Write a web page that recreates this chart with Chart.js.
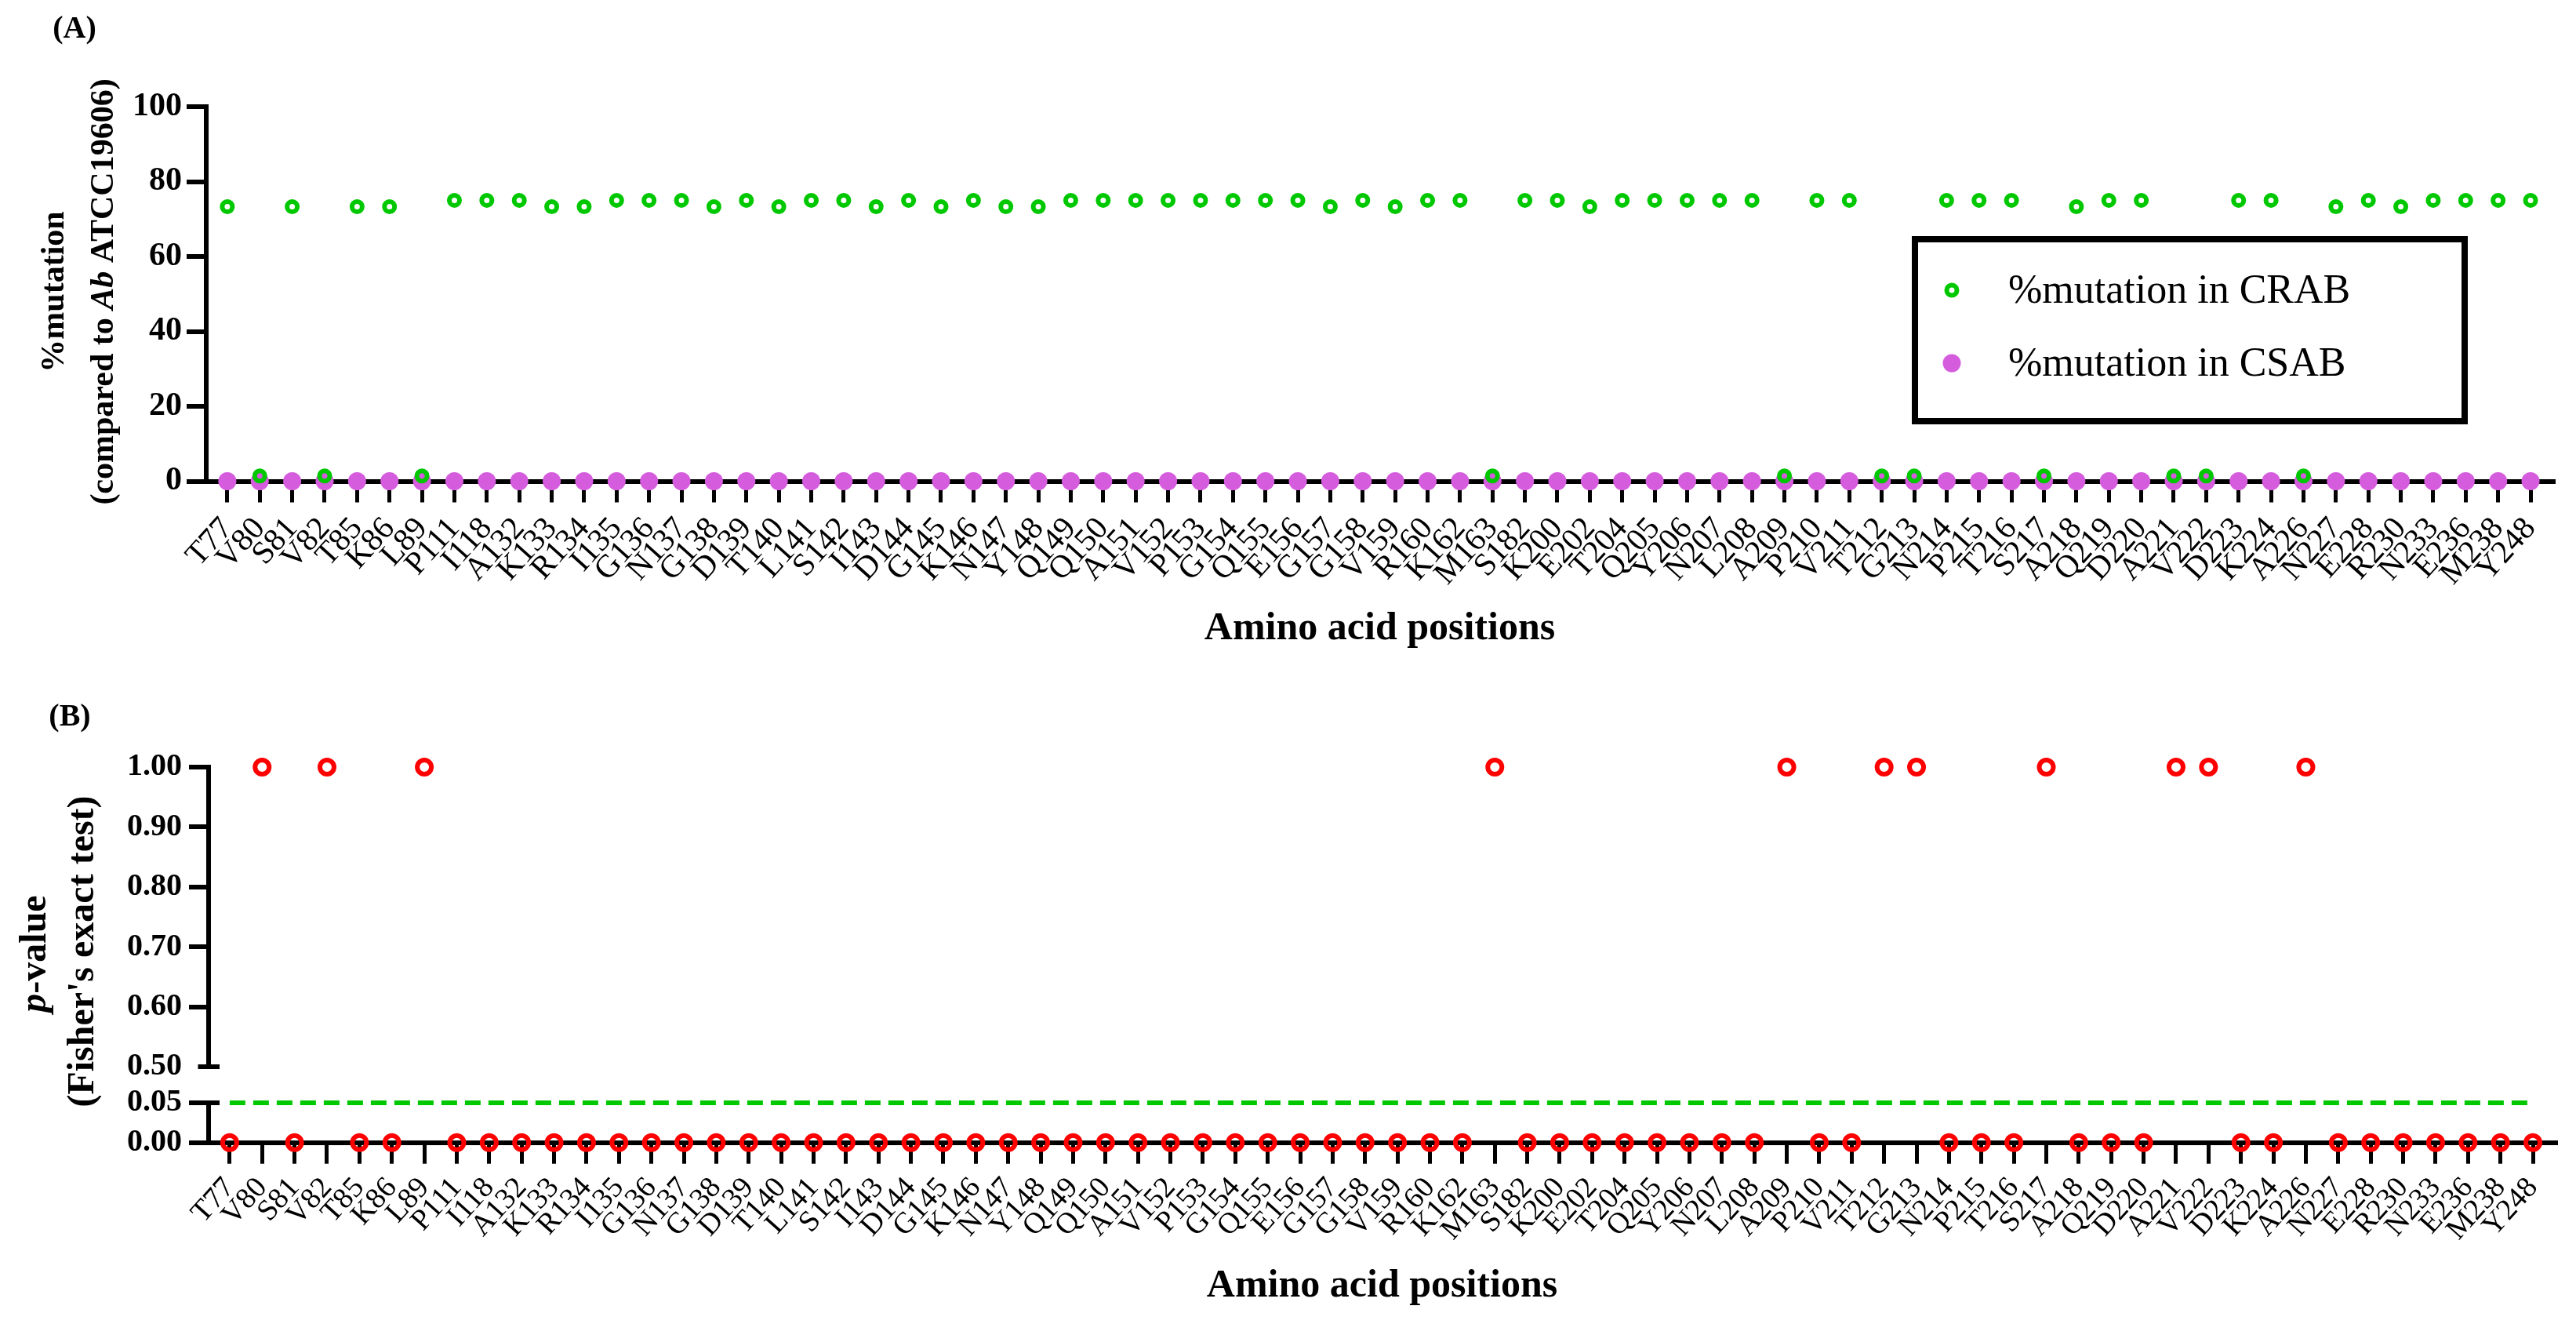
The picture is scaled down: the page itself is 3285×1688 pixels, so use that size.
<!DOCTYPE html>
<html><head><meta charset="utf-8">
<script src="https://cdn.jsdelivr.net/npm/chart.js@4.4.0/dist/chart.umd.min.js"></script>
<style>
html,body{margin:0;padding:0;background:#fff;}
#wrap{position:relative;width:3285px;height:1688px;overflow:hidden;background:#fff;}
canvas{position:absolute;left:0;top:0;width:3285px;height:1688px;}
</style></head><body>
<div id="wrap">
<canvas id="cA" width="3285" height="1688"></canvas>
<canvas id="cBU" width="3285" height="1688"></canvas>
<canvas id="cBL" width="3285" height="1688"></canvas>
</div>
<script>
// ---------- DATA ----------
const positions = ['T77','V80','S81','V82','T85','K86','L89','P111','I118','A132','K133','R134','I135','G136','N137','G138','D139','T140','L141','S142','I143','D144','G145','K146','N147','Y148','Q149','Q150','A151','V152','P153','G154','Q155','E156','G157','G158','V159','R160','K162','M163','S182','K200','E202','T204','Q205','Y206','N207','L208','A209','P210','V211','T212','G213','N214','P215','T216','S217','A218','Q219','D220','A221','V222','D223','K224','A226','N227','E228','R230','N233','E236','M238','Y248'];
const crabPct = [73.3,1.4,73.3,1.4,73.3,73.3,1.4,75,75,75,73.3,73.3,75,75,75,73.3,75,73.3,75,75,73.3,75,73.3,75,73.3,73.3,75,75,75,75,75,75,75,75,73.3,75,73.3,75,75,1.4,75,75,73.3,75,75,75,75,75,1.4,75,75,1.4,1.4,75,75,75,1.4,73.3,75,75,1.4,1.4,75,75,1.4,73.3,75,73.3,75,75,75,75];
const csabPct = [0,0,0,0,0,0,0,0,0,0,0,0,0,0,0,0,0,0,0,0,0,0,0,0,0,0,0,0,0,0,0,0,0,0,0,0,0,0,0,0,0,0,0,0,0,0,0,0,0,0,0,0,0,0,0,0,0,0,0,0,0,0,0,0,0,0,0,0,0,0,0,0];
const pValues = [0,1,0,1,0,0,1,0,0,0,0,0,0,0,0,0,0,0,0,0,0,0,0,0,0,0,0,0,0,0,0,0,0,0,0,0,0,0,0,1,0,0,0,0,0,0,0,0,1,0,0,1,1,0,0,0,1,0,0,0,1,1,0,0,1,0,0,0,0,0,0,0];
const alphaLevel = [0.05];
const yTicksA = [0,20,40,60,80,100];
const yTicksBUpper = [0.5,0.6,0.7,0.8,0.9,1.0];
const yTicksBLower = [0,0.05];
const legendLabels = ['%mutation in CRAB','%mutation in CSAB'];

// ---------- STYLE ----------
const W = 3285, H = 1688;
const FAM = 'Liberation Serif';
const GREEN = '#00c800', MAGENTA = '#d55ddd', RED = '#ff0000';
const GA = {left:263, right:3256, top:136, bottom:613.5, axisBoxBottom:850};
const GBU = {left:266, right:3259, top:978, bottom:1360};
const GBL = {left:266, right:3259, top:1406, bottom:1456.7};
const XMIN = -0.65, XMAX = 71.7;

function xAxis(show, titlePadBottom, boxHeight, labelSize, labelPad) {
  return {
    type:'linear', min:XMIN, max:XMAX, display:show,
    afterBuildTicks: s => { s.ticks = positions.map((_, i) => ({value:i})); },
    afterFit: s => { if (boxHeight !== undefined) s.height = boxHeight; },
    ticks:{autoSkip:false, minRotation:48, maxRotation:48, padding:labelPad || 8, color:'#000',
      font:{family:FAM, size:labelSize || 40}, callback:(v) => positions[Math.round(v)]},
    grid:{drawOnChartArea:false, drawTicks:true, tickLength:27, lineWidth:5, color:'#000'},
    border:{display:true, width:6, color:'#000'},
    title:{display:show, text:'Amino acid positions', color:'#000',
      font:{family:FAM, size:50, weight:'bold'}, padding:{top:0, bottom:titlePadBottom}}
  };
}
function yAxis(min, max, tickVals, width, fmt, tickPad, fontSize, tickColorFn) {
  return {
    min:min, max:max,
    afterBuildTicks: s => { s.ticks = tickVals.map(v => ({value:v})); },
    afterFit: s => { s.width = width; },
    ticks:{autoSkip:false, color:'#000', padding:tickPad, font:{family:FAM, size:fontSize, weight:'bold'}, callback:fmt},
    grid:{drawOnChartArea:false, drawTicks:true, tickLength:25, lineWidth:6, color:'#000',
      tickColor: tickColorFn || '#000'},
    border:{display:true, width:6, color:'#000'}
  };
}
function richText(ctx, parts, cx, cy, rotate) {
  ctx.save();
  ctx.translate(cx, cy);
  if (rotate) ctx.rotate(-Math.PI/2);
  ctx.textBaseline = 'middle';
  ctx.textAlign = 'left';
  let total = 0;
  parts.forEach(p => { ctx.font = p.font; p.w = ctx.measureText(p.t).width; total += p.w; });
  let x = -total/2;
  ctx.fillStyle = '#000';
  parts.forEach(p => { ctx.font = p.font; ctx.fillText(p.t, x, 0); x += p.w; });
  ctx.restore();
}
const common = {responsive:false, maintainAspectRatio:false, animation:false, devicePixelRatio:1,
  events:[], plugins:{legend:{display:false}, tooltip:{enabled:false}}};

// ---------- PANEL A ----------
const decorA = {id:'decorA', afterDraw(chart){
  const ctx = chart.ctx;
  richText(ctx, [{t:'(A)', font:`bold 40px "${FAM}"`}], 95, 38, false);
  richText(ctx, [{t:'%mutation', font:`bold 42px "${FAM}"`}], 70, 372, true);
  richText(ctx, [{t:'(compared to ', font:`bold 42px "${FAM}"`},
                 {t:'Ab', font:`italic bold 42px "${FAM}"`},
                 {t:' ATCC19606)', font:`bold 42px "${FAM}"`}], 133, 372, true);
  // legend box
  ctx.save();
  ctx.strokeStyle = '#000'; ctx.lineWidth = 8;
  ctx.strokeRect(2442, 305, 701, 232);
  ctx.beginPath(); ctx.arc(2489, 370, 6.5, 0, Math.PI*2);
  ctx.lineWidth = 6; ctx.strokeStyle = GREEN; ctx.stroke();
  ctx.beginPath(); ctx.arc(2489, 463, 11.5, 0, Math.PI*2);
  ctx.fillStyle = MAGENTA; ctx.fill();
  ctx.fillStyle = '#000'; ctx.font = `52px "${FAM}"`; ctx.textBaseline = 'middle'; ctx.textAlign = 'left';
  ctx.fillText(legendLabels[0], 2561, 372);
  ctx.fillText(legendLabels[1], 2561, 465);
  ctx.restore();
}};
new Chart(document.getElementById('cA'), {
  type:'scatter',
  data:{datasets:[
    {label:legendLabels[0], data:positions.map((_, i) => ({x:i, y:crabPct[i]})),
     pointStyle:'circle', pointRadius:6.5, borderWidth:6, borderColor:GREEN, backgroundColor:'rgba(0,0,0,0)', clip:false},
    {label:legendLabels[1], data:positions.map((_, i) => ({x:i, y:csabPct[i]})),
     pointStyle:'circle', pointRadius:11.5, borderWidth:0, borderColor:MAGENTA, backgroundColor:MAGENTA, clip:false}
  ]},
  options:Object.assign({}, common, {
    layout:{padding:{left:0, right:W-GA.right, top:GA.top, bottom:H-GA.axisBoxBottom}},
    scales:{
      x: xAxis(true, 18, GA.axisBoxBottom - GA.bottom, 41, 10),
      y: yAxis(0, 100, yTicksA, GA.left, v => String(v), 6, 42)
    }
  }),
  plugins:[decorA]
});

// ---------- PANEL B (upper segment) ----------
const decorBU = {id:'decorBU', afterDraw(chart){
  const ctx = chart.ctx;
  richText(ctx, [{t:'(B)', font:`bold 40px "${FAM}"`}], 89, 915, false);
  richText(ctx, [{t:'p', font:`italic bold 48px "${FAM}"`}, {t:'-value', font:`bold 48px "${FAM}"`}], 46, 1216, true);
  richText(ctx, [{t:"(Fisher's exact test)", font:`bold 48px "${FAM}"`}], 107, 1213, true);
  const ys = chart.scales.y, yy = ys.getPixelForValue(yTicksBUpper[0]), ax = chart.chartArea.left;
  ctx.save(); ctx.strokeStyle = '#000'; ctx.lineWidth = 6;
  ctx.beginPath(); ctx.moveTo(ax - 13.5, yy); ctx.lineTo(ax + 14, yy); ctx.stroke(); ctx.restore();
}};
new Chart(document.getElementById('cBU'), {
  type:'scatter',
  data:{datasets:[
    {label:'p-value', data:positions.map((_, i) => ({x:i, y:pValues[i]})),
     pointStyle:'circle', pointRadius:9, borderWidth:6, borderColor:RED, backgroundColor:'rgba(0,0,0,0)', clip:20}
  ]},
  options:Object.assign({}, common, {
    layout:{padding:{left:0, right:W-GBU.right, top:GBU.top, bottom:H-GBU.bottom}},
    scales:{
      x: xAxis(false, 0),
      y: yAxis(0.5, 1.0, yTicksBUpper, GBU.left, v => v.toFixed(2), 9, 40,
               c => (c.tick && c.tick.value === yTicksBUpper[0]) ? 'rgba(0,0,0,0)' : '#000')
    }
  }),
  plugins:[decorBU]
});

// ---------- PANEL B (lower segment) ----------
const decorBL = {id:'decorBL', afterDraw(chart){
  const ctx = chart.ctx;
  const yy = chart.scales.y.getPixelForValue(yTicksBLower[1]), ax = chart.chartArea.left;
  ctx.save(); ctx.strokeStyle = '#000'; ctx.lineWidth = 6;
  ctx.beginPath(); ctx.moveTo(ax - 2, yy); ctx.lineTo(ax + 14, yy); ctx.stroke(); ctx.restore();
}};
new Chart(document.getElementById('cBL'), {
  type:'scatter',
  data:{datasets:[
    {label:'p-value', data:positions.map((_, i) => ({x:i, y:pValues[i]})),
     pointStyle:'circle', pointRadius:9, borderWidth:6, borderColor:RED, backgroundColor:'rgba(0,0,0,0)', clip:20},
    {type:'line', label:'alpha', data:[{x:0, y:alphaLevel[0]}, {x:positions.length-1, y:alphaLevel[0]}],
     borderColor:GREEN, borderWidth:6, borderDash:[20,10], pointRadius:0, fill:false, showLine:true, clip:20}
  ]},
  options:Object.assign({}, common, {
    layout:{padding:{left:0, right:W-GBL.right, top:GBL.top, bottom:0}},
    scales:{
      x: xAxis(true, 18, H - GBL.bottom, 38, 9),
      y: yAxis(0, 0.05, yTicksBLower, GBL.left, v => v.toFixed(2), 9, 40)
    }
  }),
  plugins:[decorBL]
});
</script>
</body></html>
